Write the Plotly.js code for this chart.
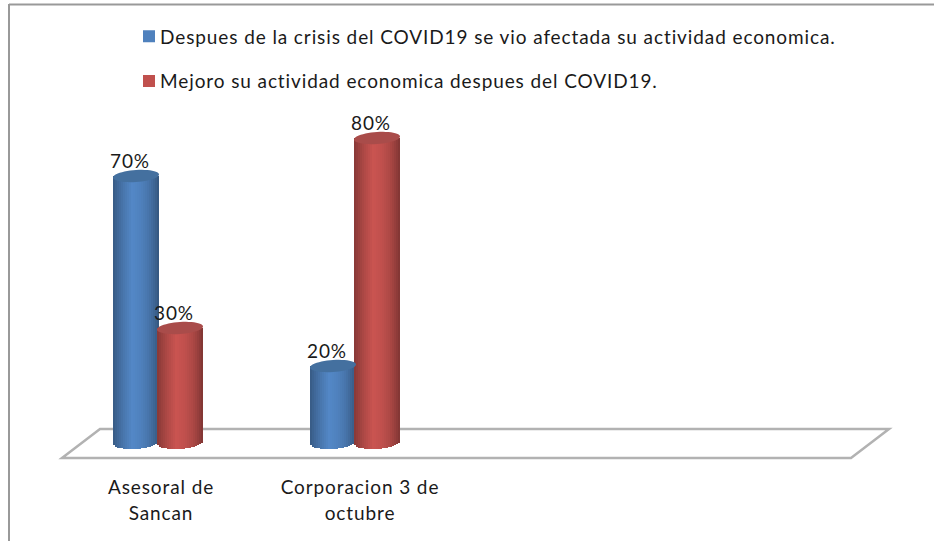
<!DOCTYPE html>
<html><head><meta charset="utf-8">
<script src="https://cdn.plot.ly/plotly-3.0.1.min.js"></script>
<style>html,body{margin:0;padding:0;background:#fff}#c{width:934px;height:541px}
.legendtext,.xtick text,.textpoint text{letter-spacing:0.9px}</style>
</head><body><div id="c"></div>
<script>
// ---- data ----
var categories = ["Asesoral de<br>Sancan", "Corporacion 3 de<br>octubre"];
var seriesA = [0.7, 0.2];
var seriesB = [0.3, 0.8];
var nameA = "Despues de la crisis del COVID19 se vio afectada su actividad economica.";
var nameB = "Mejoro su actividad economica despues del COVID19.";
var colorA = "#4F81BD", colorB = "#C0504D";
var capA = "#44709F", capB = "#A94C4A";

// ---- scale: px per category and px per unit value ----
var W = 934, H = 541, BOTTOM = 75;
var pxX = 197, x0 = 158, pxY = 380, y0 = 442;
var dx = function (p) { return p / pxX; };
var dy = function (p) { return p / pxY; };
var xIdx = categories.map(function (_, i) { return i; });
var FONT = "Lato, Carlito, sans-serif";
var INK = "#1a1a1a";

var shadeStops = [[0,.70],[.1,.80],[.25,.93],[.42,1.05],[.6,1.0],[.78,.9],[.92,.76],[1,.66]];
function shade(hex, u) {
  var k = 1;
  for (var i = 1; i < shadeStops.length; i++) {
    var a = shadeStops[i-1], b = shadeStops[i];
    if (u <= b[0]) { k = a[1] + (b[1]-a[1]) * (u-a[0]) / (b[0]-a[0]); break; }
  }
  var n = parseInt(hex.slice(1), 16);
  var c = [n>>16, (n>>8)&255, n&255].map(function (v) { return Math.min(255, Math.round(v*k)); });
  return "rgb(" + c.join(",") + ")";
}

var BW = 46, STRIP = 2, CAP = 6, FOOT = 7, TILT = 1.5;
var traces = [];
function addSeries(name, vals, color, left, group) {
  // flat series bar that carries the legend entry
  traces.push({type:"bar", name:name, x:xIdx, y:vals, width:dx(BW), offset:dx(left),
    marker:{color:color, line:{width:0}}, legendgroup:group, showlegend:true, hoverinfo:"skip"});
  // shaded strips that give the cylinder look, with a curved foot
  for (var s = 0; s < BW; s += STRIP) {
    var mid = (s + STRIP/2) / BW, t = 2*mid - 1;
    var drop = dy(FOOT) * Math.sqrt(1 - t*t) - dy(TILT) * t;
    traces.push({type:"bar", x:xIdx, y:vals.map(function (v) { return v + drop; }),
      base:vals.map(function () { return -drop; }),
      width:dx(STRIP), offset:dx(left + s),
      marker:{color:shade(color, mid), line:{width:0}}, showlegend:false, legendgroup:group, hoverinfo:"skip"});
  }
}
addSeries(nameA, seriesA, colorA, -45, "a");
addSeries(nameB, seriesB, colorB, -1, "b");

function labels(vals, center) {
  traces.push({type:"scatter", mode:"text", x:xIdx.map(function (i) { return i + dx(center - 6); }),
    y:vals.map(function (v) { return v + dy(12.5); }),
    text:vals.map(function (v) { return Math.round(v*100) + "%"; }),
    textposition:"middle center", textfont:{family:FONT, size:19, color:INK},
    cliponaxis:false, showlegend:false, hoverinfo:"skip"});
}
labels(seriesA, -22);
labels(seriesB, 22);

// slightly tilted elliptical caps
function capShapes(vals, left, color) {
  return vals.map(function (v, i) {
    var pts = [];
    for (var k = 0; k < 48; k++) {
      var th = k / 48 * 2 * Math.PI, c = Math.cos(th), sn = Math.sin(th);
      pts.push((i + dx(left + BW/2 + BW/2*c)) + "," + (v + dy(CAP*sn + TILT*c)));
    }
    return {type:"path", xref:"x", yref:"y", layer:"above", fillcolor:color, line:{width:0},
      path:"M" + pts.join("L") + "Z"};
  });
}
// floor of the 3D plot (x in categories, y in value units)
var floorFront = dy(y0 - 458), floorBack = dy(y0 - 429);
var px = function (p) { return (p - x0) / pxX; };
var floorPath = "M" + px(62) + "," + floorFront + "L" + px(100) + "," + floorBack +
  "L" + px(889) + "," + floorBack + "L" + px(851) + "," + floorFront + "Z";
var shapes = [
  {type:"path", xref:"x", yref:"y", layer:"below", path:floorPath, line:{color:"#B2B2B2", width:2.5}},
  {type:"line", xref:"paper", yref:"paper", x0:9/W, x1:1, y0:1-4.5/(H-BOTTOM), y1:1-4.5/(H-BOTTOM), line:{color:"#999", width:2}},
  {type:"line", xref:"paper", yref:"paper", x0:9/W, x1:9/W, y0:-BOTTOM/(H-BOTTOM), y1:1-4/(H-BOTTOM), line:{color:"#999", width:2}}
].concat(capShapes(seriesA, -45, capA), capShapes(seriesB, -1, capB));

var layout = {
  width:W, height:H, margin:{l:0, r:0, t:0, b:BOTTOM, pad:0},
  paper_bgcolor:"#fff", plot_bgcolor:"rgba(0,0,0,0)",
  barmode:"overlay", bargap:0,
  font:{family:FONT, size:19, color:INK},
  xaxis:{range:[-x0/pxX, (W-x0)/pxX], showgrid:false, zeroline:false, showline:false, ticks:"",
    tickmode:"array", tickvals:xIdx.map(function (i) { return i + dx(3 + 2*i); }),
    ticktext:categories.map(function (c) { return '<span style="font-size:19px">' + c.replace("<br>", '</span><br><span style="font-size:19px">') + "</span>"; }),
    tickfont:{family:FONT, size:20, color:INK}, tickangle:0, ticklabelstandoff:7, fixedrange:true},
  yaxis:{range:[(y0-(H-BOTTOM))/pxY, y0/pxY], visible:false, fixedrange:true},
  legend:{x:120/W, y:1-17.5/(H-BOTTOM), xanchor:"left", yanchor:"top", orientation:"v",
    tracegroupgap:17, bgcolor:"rgba(0,0,0,0)", borderwidth:0, font:{family:FONT, size:19, color:INK},
    itemclick:false, itemdoubleclick:false},
  shapes:shapes
};
Plotly.newPlot("c", traces, layout, {displayModeBar:false, responsive:false}).then(function (gd) {
  gd.querySelectorAll(".legend .legendsymbols").forEach(function (el) { el.setAttribute("transform", "translate(9,0)"); });
});
</script></body></html>
